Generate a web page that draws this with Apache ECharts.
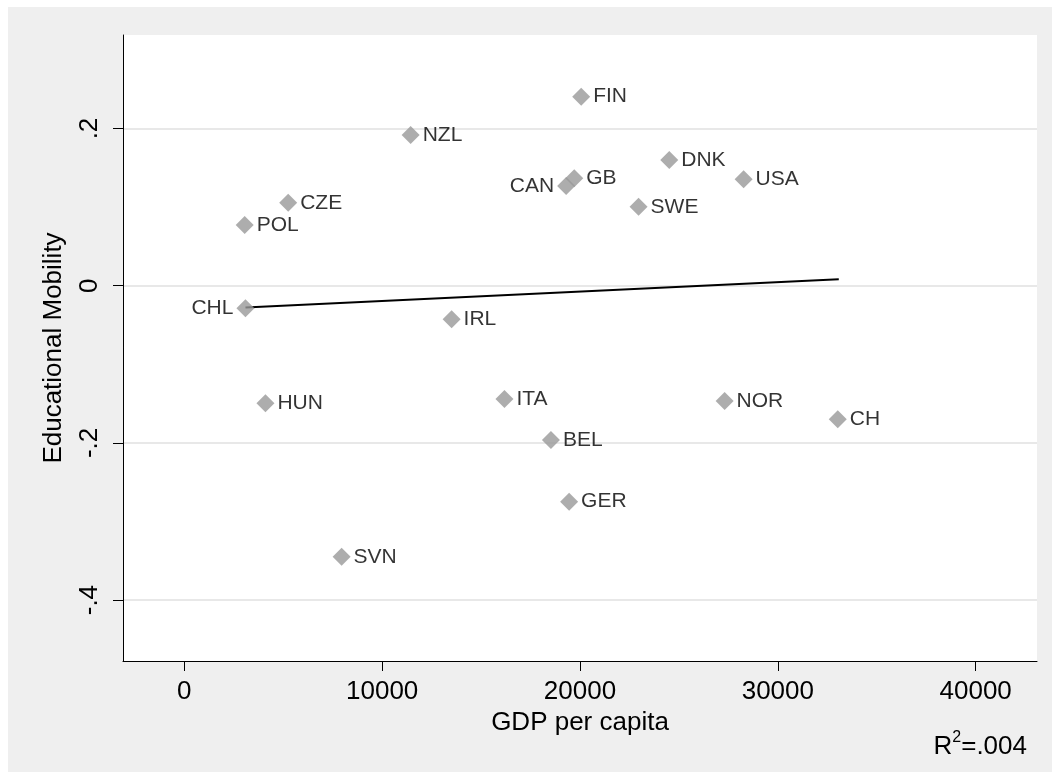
<!DOCTYPE html>
<html>
<head>
<meta charset="utf-8">
<title>Educational Mobility vs GDP per capita</title>
<script src="https://cdn.jsdelivr.net/npm/echarts@6/dist/echarts.min.js"></script>
<style>
  html, body { margin: 0; padding: 0; background: #ffffff; }
  #frame { position: absolute; left: 8px; top: 7px; right: 0; bottom: 0; background: #efefef; }
  #chart { position: absolute; left: 0; top: 0; width: 1052px; height: 772px; }
</style>
</head>
<body>
<div id="frame"></div>
<div id="chart"></div>
<script>
// Countries and their values
const countries = ['FIN', 'NZL', 'DNK', 'GB', 'CAN', 'USA', 'CZE', 'SWE', 'POL', 'CHL',
                   'IRL', 'HUN', 'ITA', 'NOR', 'CH', 'BEL', 'GER', 'SVN'];
const gdpPerCapita = [20060, 11440, 24510, 19710, 19300, 28270, 5250, 22960, 3050, 3090,
                      13510, 4100, 16180, 27310, 33030, 18530, 19450, 7950];
const eduMobility = [0.2405, 0.1917, 0.160, 0.1368, 0.1269, 0.1354, 0.1056, 0.1005, 0.0772, -0.0288,
                     -0.0428, -0.1496, -0.1441, -0.1467, -0.170, -0.1963, -0.2748, -0.3448];
// Labels drawn on the left of their marker
const leftLabelled = ['CHL', 'CAN'];

// Linear fit endpoints
const fitX = [3090, 33080];
const fitY = [-0.0277, 0.0081];

// Axis ticks
const xTicks = [0, 10000, 20000, 30000, 40000];
const yTicks = [-0.4, -0.2, 0, 0.2];
const rSquaredText = '.004';

const FONT = '"Liberation Sans", Arial, Helvetica, sans-serif';

const chart = echarts.init(document.getElementById('chart'), null, { renderer: 'canvas' });

const points = countries.map((c, i) => ({
  name: c,
  value: [gdpPerCapita[i], eduMobility[i]],
  label: { position: leftLabelled.includes(c) ? 'left' : 'right' }
}));

const fitData = fitX.map((x, i) => [x, fitY[i]]);

chart.setOption({
  backgroundColor: 'transparent',
  animation: false,
  textStyle: { fontFamily: FONT },
  grid: {
    left: 123, right: 15, top: 35, bottom: 111,
    show: true, backgroundColor: '#ffffff', borderWidth: 0,
    outerBoundsMode: 'none'
  },
  xAxis: {
    type: 'value',
    min: -3100, max: 43100,
    name: 'GDP per capita',
    nameLocation: 'middle',
    nameGap: 47,
    nameTextStyle: { fontSize: 26, color: '#000', fontFamily: FONT },
    axisLine: { show: true, onZero: false, lineStyle: { color: '#000', width: 1 } },
    axisTick: { show: true, length: 10, customValues: xTicks, lineStyle: { color: '#000', width: 1 } },
    axisLabel: {
      customValues: xTicks, fontSize: 26, color: '#000', margin: 18, fontFamily: FONT,
      formatter: v => String(v)
    },
    splitLine: { show: false }
  },
  yAxis: {
    type: 'value',
    min: -0.4775, max: 0.319,
    name: 'Educational Mobility',
    nameLocation: 'middle',
    nameGap: 56,
    nameTextStyle: { fontSize: 26, color: '#000', fontFamily: FONT },
    axisLine: { show: true, onZero: false, lineStyle: { color: '#000', width: 1 } },
    axisTick: { show: true, length: 10, customValues: yTicks, lineStyle: { color: '#000', width: 1 } },
    axisLabel: {
      customValues: yTicks, fontSize: 26, color: '#000', rotate: 90, margin: 20, fontFamily: FONT,
      formatter: v => (v === 0 ? '0' : String(+v.toFixed(2)).replace('0.', '.'))
    },
    splitLine: { show: true, lineStyle: { color: '#e8e8e8', width: 2 } }
  },
  graphic: [{
    type: 'text',
    right: 25,
    bottom: 12,
    style: {
      text: '{r|R}{sup|2}{r|=' + rSquaredText + '}',
      rich: {
        r: { fontSize: 26, fill: '#000', fontFamily: FONT, verticalAlign: 'bottom' },
        sup: { fontSize: 16, fill: '#000', fontFamily: FONT, verticalAlign: 'top', padding: [0, 0, 14, 0] }
      }
    }
  }],
  series: [
    {
      type: 'line',
      data: fitData,
      symbol: 'none',
      lineStyle: { color: '#000', width: 2 },
      z: 2,
      silent: true
    },
    {
      type: 'scatter',
      data: points,
      symbol: 'diamond',
      symbolSize: 18,
      itemStyle: { color: '#999999' },
      label: {
        show: true,
        formatter: p => p.name,
        distance: 3,
        fontSize: 21,
        color: '#000',
        fontFamily: FONT
      },
      z: 3
    }
  ]
});
</script>
</body>
</html>
